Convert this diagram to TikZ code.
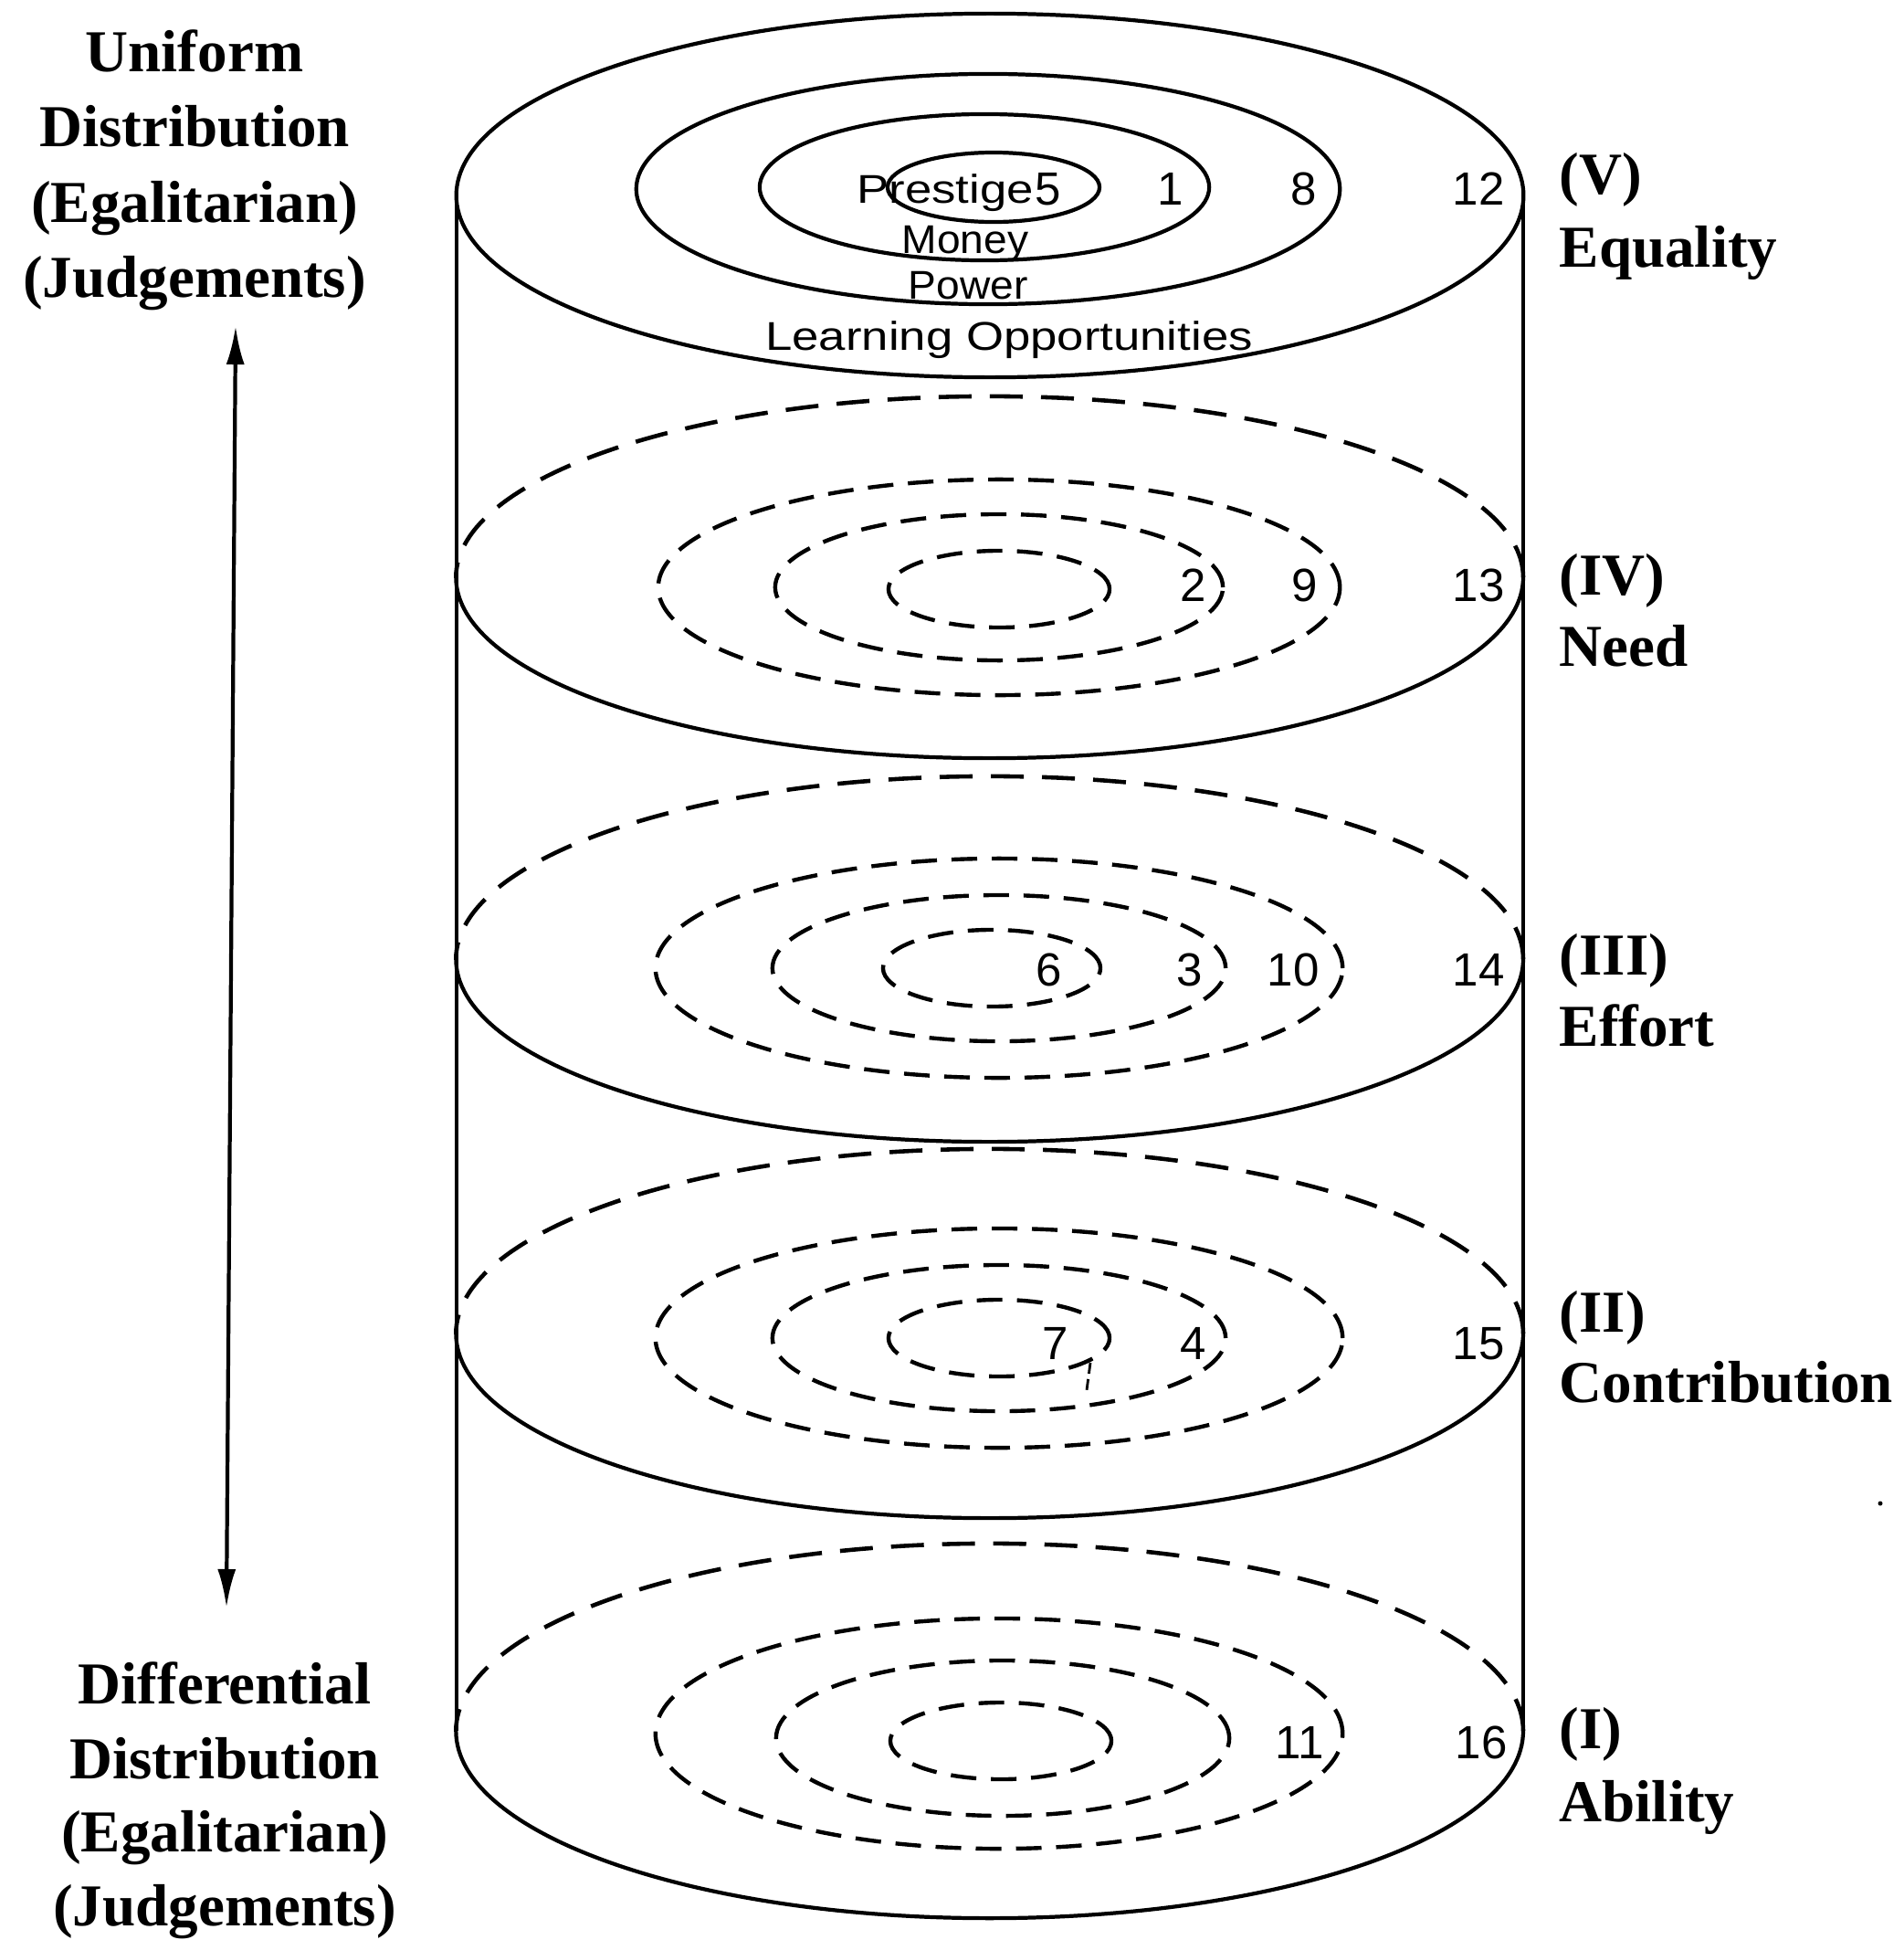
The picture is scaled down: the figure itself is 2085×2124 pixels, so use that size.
\documentclass[tikz,border=0pt]{standalone}
\usepackage{fontspec}
\setmainfont{Liberation Serif}
\newfontfamily\numfont{Liberation Sans}
\usetikzlibrary{arrows.meta}
\begin{document}
\begin{tikzpicture}[x=0.01cm,y=-0.01cm,
  solidline/.style={line width=1.2pt},
  dashline/.style={line width=1.3pt, dash pattern=on 0.36cm off 0.2cm},
  ringdash/.style={line width=1.25pt, dash pattern=on 0.28cm off 0.16cm},
  num/.style={font=\numfont\fontsize{14.5}{14.5}\selectfont, inner sep=0pt, anchor=base},
  zone/.style={font=\numfont\fontsize{12.5}{12.5}\selectfont, inner sep=0pt, anchor=base, xscale=1.2},
  lab/.style={font=\bfseries\fontsize{18.5}{22}\selectfont, inner sep=0pt, anchor=base},
  rlab/.style={lab, anchor=base west},
  tip/.tip={Latex[length=0.42cm,width=0.2cm]}]

\useasboundingbox (0,0) rectangle (2085,2124);

% ---------- cylinder sides ----------
\coordinate (tl) at (500,214);  \coordinate (tr) at (1668,214);
\coordinate (bl) at (500,1895); \coordinate (br) at (1668,1895);
\draw[solidline] (tl) -- (bl);
\draw[solidline] (tr) -- (br);

% ---------- level V (top, solid) ----------
\draw[solidline] (1084,214) ellipse [x radius=5.84cm, y radius=1.99cm];
\draw[solidline] (1082,207) ellipse [x radius=3.85cm, y radius=1.26cm];
\draw[solidline] (1078,205) ellipse [x radius=2.46cm, y radius=0.80cm];
\draw[solidline] (1088,205) ellipse [x radius=1.16cm, y radius=0.38cm];

% ---------- level IV ----------
\draw[dashline]  (1668,632) arc[start angle=0, end angle=180, x radius=5.84cm, y radius=1.98cm];
\draw[solidline] (1668,632) arc[start angle=0, end angle=-180, x radius=5.84cm, y radius=1.98cm];
\draw[ringdash] (1094,643) ellipse [x radius=3.73cm, y radius=1.18cm];
\draw[ringdash] (1094,643) ellipse [x radius=2.45cm, y radius=0.80cm];
\draw[ringdash] (1094,645) ellipse [x radius=1.21cm, y radius=0.42cm];

% ---------- level III ----------
\draw[dashline]  (1668,1050) arc[start angle=0, end angle=180, x radius=5.84cm, y radius=2.00cm];
\draw[solidline] (1668,1050) arc[start angle=0, end angle=-180, x radius=5.84cm, y radius=2.00cm];
\draw[ringdash] (1094,1060) ellipse [x radius=3.76cm, y radius=1.20cm];
\draw[ringdash] (1094,1060) ellipse [x radius=2.48cm, y radius=0.80cm];
\draw[ringdash] (1086,1060) ellipse [x radius=1.19cm, y radius=0.42cm];

% ---------- level II ----------
\draw[dashline]  (1668,1460) arc[start angle=0, end angle=180, x radius=5.84cm, y radius=2.02cm];
\draw[solidline] (1668,1460) arc[start angle=0, end angle=-180, x radius=5.84cm, y radius=2.02cm];
\draw[ringdash] (1094,1465) ellipse [x radius=3.76cm, y radius=1.20cm];
\draw[ringdash] (1094,1465) ellipse [x radius=2.48cm, y radius=0.80cm];
\draw[ringdash] (1094,1465) ellipse [x radius=1.21cm, y radius=0.42cm];
\coordinate (tk1) at (1194,1492); \coordinate (tk2) at (1190,1522);
\draw[line width=0.8pt, dash pattern=on 0.12cm off 0.06cm] (tk1) -- (tk2);

% ---------- level I ----------
\draw[dashline]  (1668,1895) arc[start angle=0, end angle=180, x radius=5.84cm, y radius=2.05cm];
\draw[solidline] (1668,1895) arc[start angle=0, end angle=-180, x radius=5.84cm, y radius=2.05cm];
\draw[ringdash] (1094,1898) ellipse [x radius=3.76cm, y radius=1.26cm];
\draw[ringdash] (1098,1903) ellipse [x radius=2.48cm, y radius=0.85cm];
\draw[ringdash] (1096,1906) ellipse [x radius=1.21cm, y radius=0.42cm];

% ---------- zone texts (top) ----------
\node[zone] (prestige) at (1035,222) {Prestige};
\node[zone, xscale=0.875] (money) at (1057,277) {Money};
\node[zone, xscale=0.875] (power) at (1060,327) {Power};
\node[zone] (learning) at (1105,383) {Learning Opportunities};

% ---------- numbers ----------
\node[num] (n5)  at (1148,224) {5};
\node[num] (n1)  at (1282,224) {1};
\node[num] (n8)  at (1428,224) {8};
\node[num] (n12) at (1619,224) {12};

\node[num] (n2)  at (1307,658) {2};
\node[num] (n9)  at (1429,658) {9};
\node[num] (n13) at (1619,658) {13};

\node[num] (n6)  at (1149,1079) {6};
\node[num] (n3)  at (1303,1079) {3};
\node[num] (n10) at (1416,1079) {10};
\node[num] (n14) at (1619,1079) {14};

\node[num] (n7)  at (1156,1488) {7};
\node[num] (n4)  at (1307,1488) {4};
\node[num] (n15) at (1619,1488) {15};

\node[num] (n11) at (1423,1925) {11};
\node[num] (n16) at (1622,1925) {16};

% ---------- right labels ----------
\node[rlab] (rV)  at (1707,212)  {(V)};
\node[rlab] (rVb) at (1707,292)  {Equality};
\node[rlab] (rIV)  at (1707,651) {(IV)};
\node[rlab] (rIVb) at (1707,729) {Need};
\node[rlab] (rIII)  at (1707,1067) {(III)};
\node[rlab] (rIIIb) at (1707,1145) {Effort};
\node[rlab] (rII)  at (1707,1458) {(II)};
\node[rlab] (rIIb) at (1707,1535) {Contribution};
\node[rlab] (rI)  at (1707,1914) {(I)};
\node[rlab] (rIb) at (1707,1994) {Ability};

% ---------- left labels ----------
\node[lab] (u1) at (213,78)  {Uniform};
\node[lab] (u2) at (213,160) {Distribution};
\node[lab] (u3) at (213,243) {(Egalitarian)};
\node[lab] (u4) at (213,325) {(Judgements)};

\node[lab] (d1) at (246,1865) {Differential};
\node[lab] (d2) at (246,1947) {Distribution};
\node[lab] (d3) at (246,2027) {(Egalitarian)};
\node[lab] (d4) at (246,2108) {(Judgements)};

% ---------- double arrow ----------
\coordinate (au) at (258,357);
\coordinate (ad) at (248,1760);
\draw[solidline, tip-tip] (ad) -- (au);

% stray dot
\coordinate (dot) at (2059,1646);
\fill (dot) circle [radius=0.025cm];
\end{tikzpicture}
\end{document}
